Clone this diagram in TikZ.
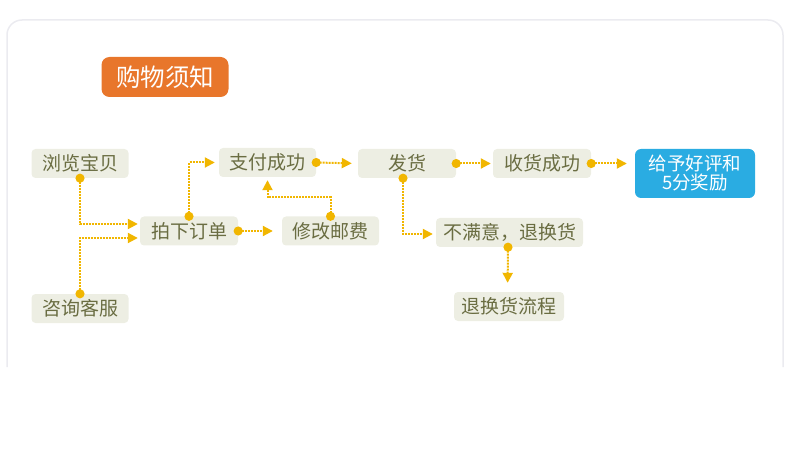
\documentclass[tikz,border=0pt]{standalone}
\usepackage{fontspec}
\newfontfamily\cjk{Noto Sans CJK SC}
\usetikzlibrary{arrows.meta}

\definecolor{panelline}{HTML}{EBEBF0}
\definecolor{titleorange}{HTML}{E8762B}
\definecolor{rewardblue}{HTML}{2AACE2}
\definecolor{boxfill}{HTML}{EDEEE3}
\definecolor{boxtext}{HTML}{6A6D42}
\definecolor{flowline}{HTML}{F1B600}

\begin{document}
\begin{tikzpicture}[x=1pt, y=-1pt,
    stepbox/.style={fill=boxfill, rounded corners=4pt, text=boxtext, inner sep=0pt,
        minimum width=97pt, minimum height=29pt, font=\cjk\fontsize{19}{21}\selectfont},
    titlebox/.style={fill=titleorange, rounded corners=8pt, text=white, inner sep=0pt,
        minimum width=127pt, minimum height=40pt, font=\cjk\fontsize{24.5}{27}\selectfont},
    rewardbox/.style={fill=rewardblue, rounded corners=6pt, text=white, inner sep=0pt,
        minimum width=120pt, minimum height=49pt, align=center,
        font=\cjk\fontsize{18.5}{19}\selectfont},
    flow/.style={draw=flowline, line width=2pt, dash pattern=on 2pt off 1pt,
        {Circle[length=9pt]}-{Triangle[length=10pt,width=10pt]},
        shorten <=-4.5pt, shorten >=4pt}]
    \useasboundingbox (0,0) rectangle (790,457);

    % Draw the panel outline (open at the bottom)
    \draw[panelline, line width=1.5pt, rounded corners=15pt] (7,367) -- (7,20) -- (783,20) -- (783,367);

    % Title
    \node[titlebox] (title) at (165,77) {购物须知};

    % Steps of the flow
    \node[stepbox] (view) at (80,163.5) {浏览宝贝};
    \node[stepbox] (service) at (80,308.5) {咨询客服};
    \node[stepbox, minimum width=98pt] (order) at (189,231) {拍下订单};
    \node[stepbox] (pay) at (267.5,162.5) {支付成功};
    \node[stepbox] (postage) at (330.5,231) {修改邮费};
    \node[stepbox, minimum width=98pt] (ship) at (407,163.5) {发货};
    \node[stepbox, minimum width=98pt] (received) at (542,163.5) {收货成功};
    \node[rewardbox] (review) at (695,173.5) {给予好评和\\5分奖励};
    \node[stepbox, minimum width=147pt] (unhappy) at (509.5,232.5) {不满意，退换货};
    \node[stepbox, minimum width=110pt] (returns) at (509,306.5) {退换货流程};

    % Connectors
    \draw[flow, shorten >=2pt] (view.south) |- ([yshift=7pt]order.west);
    \draw[flow, shorten >=2pt] (service.north) |- ([yshift=-7pt]order.west);
    \draw[flow] (order.north) |- (pay.west);
    \draw[flow, shorten >=9pt] (order.east) -- (postage.west);
    \draw[flow, shorten >=3pt] (postage.north) -- ++(0,-19) -| (pay.south);
    \draw[flow, shorten >=6pt] (pay.east) -- (ship.west);
    \draw[flow, shorten >=2pt] (ship.east) -- (received.west);
    \draw[flow, shorten >=8pt] (received.east) -- (review.west |- received.east);
    \draw[flow, shorten >=3pt] ([xshift=-4pt]ship.south) |- ([yshift=-1.5pt]unhappy.west);
    \draw[flow, shorten >=9pt] ([xshift=-1.5pt]unhappy.south) -- ([xshift=-1.5pt]returns.north);
\end{tikzpicture}
\end{document}
